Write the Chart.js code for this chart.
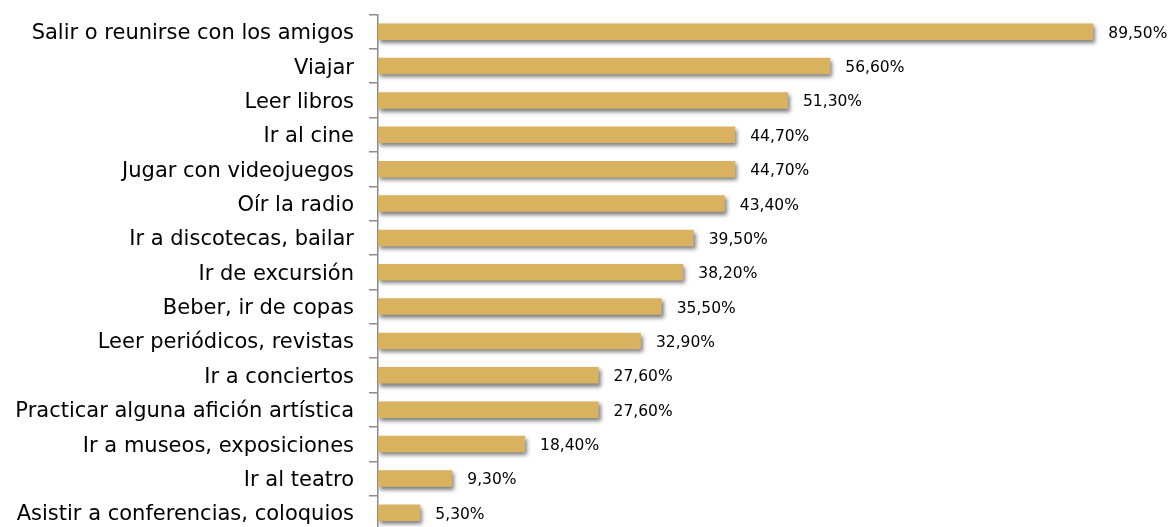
<!DOCTYPE html>
<html>
<head>
<meta charset="utf-8">
<script src="https://cdn.jsdelivr.net/npm/chart.js@4"></script>
<style>
  html, body { margin: 0; padding: 0; background: #fff; overflow: hidden; }
  #grafico { display: block; }
</style>
</head>
<body>
<canvas id="grafico" width="1170" height="550" style="width:1170px;height:550px"></canvas>
<script>
const categorie = [
    "Salir o reunirse con los amigos",
    "Viajar",
    "Leer libros",
    "Ir al cine",
    "Jugar con videojuegos",
    "Oír la radio",
    "Ir a discotecas, bailar",
    "Ir de excursión",
    "Beber, ir de copas",
    "Leer periódicos, revistas",
    "Ir a conciertos",
    "Practicar alguna afición artística",
    "Ir a museos, exposiciones",
    "Ir al teatro",
    "Asistir a conferencias, coloquios"
];
const valori = [89.5, 56.6, 51.3, 44.7, 44.7, 43.4, 39.5, 38.2, 35.5, 32.9, 27.6, 27.6, 18.4, 9.3, 5.3];
const etichette = ["89,50%", "56,60%", "51,30%", "44,70%", "44,70%", "43,40%", "39,50%", "38,20%",
    "35,50%", "32,90%", "27,60%", "27,60%", "18,40%", "9,30%", "5,30%"];

const font = "'DejaVu Sans', sans-serif";

// ombra sotto le barre
const ombra = {
    id: 'ombra',
    beforeDatasetsDraw(chart) {
        const ctx = chart.ctx;
        ctx.save();
        ctx.shadowColor = 'rgba(0,0,0,0.5)';
        ctx.shadowBlur = 4;
        ctx.shadowOffsetX = 2;
        ctx.shadowOffsetY = 3;
    },
    afterDatasetsDraw(chart) {
        chart.ctx.restore();
    }
};

// etichette dei valori a destra delle barre
const valoriBarre = {
    id: 'valoriBarre',
    afterDraw(chart) {
        const ctx = chart.ctx;
        const meta = chart.getDatasetMeta(0);
        ctx.save();
        ctx.font = "15.5px " + font;
        ctx.fillStyle = '#000';
        ctx.textAlign = 'left';
        ctx.textBaseline = 'middle';
        meta.data.forEach((bar, i) => {
            ctx.fillText(etichette[i], bar.x + 15, bar.y + 2);
        });
        ctx.restore();
    }
};

new Chart("grafico", {
    type: "bar",
    data: {
        labels: categorie,
        datasets: [{
            data: valori,
            backgroundColor: "#D9B25F",
            borderWidth: 0,
            barPercentage: 0.48,
            categoryPercentage: 1.0
        }]
    },
    options: {
        indexAxis: 'y',
        responsive: false,
        animation: false,
        layout: { padding: { top: 0, bottom: 0, left: 0, right: 0 } },
        plugins: {
            legend: { display: false },
            tooltip: { enabled: false }
        },
        scales: {
            x: {
                display: false,
                min: 0,
                max: 99.1
            },
            y: {
                afterFit(scale) {
                    scale.width = 378;
                    scale.paddingTop = 14.5;
                    scale.paddingBottom = 20;
                },
                border: { color: '#8c8c8c', width: 1.5 },
                grid: {
                    drawOnChartArea: false,
                    color: '#8c8c8c',
                    lineWidth: 1.5,
                    tickLength: 9
                },
                ticks: {
                    padding: 15,
                    labelOffset: 2,
                    color: '#000',
                    font: { family: font, size: 21 }
                }
            }
        }
    },
    plugins: [ombra, valoriBarre]
});
</script>
</body>
</html>
